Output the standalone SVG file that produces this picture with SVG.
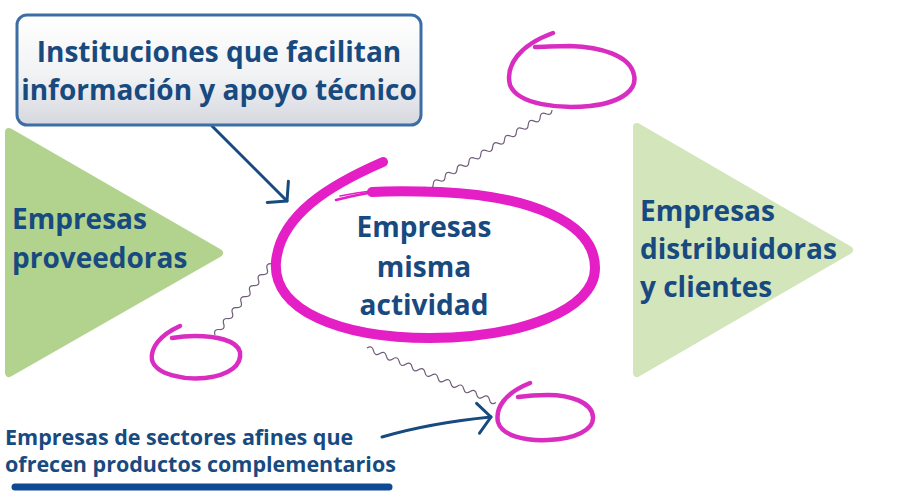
<svg xmlns="http://www.w3.org/2000/svg" width="900" height="500" viewBox="0 0 900 500">
  <defs>
    <linearGradient id="boxg" x1="0" y1="0" x2="0" y2="1">
      <stop offset="0" stop-color="#ffffff"/>
      <stop offset="0.55" stop-color="#f1f2f4"/>
      <stop offset="1" stop-color="#d5d8de"/>
    </linearGradient>
    <marker id="arr" viewBox="-16 -18 20 36" refX="0" refY="0" markerWidth="20" markerHeight="36" markerUnits="userSpaceOnUse" orient="auto">
      <path d="M-13,-15 L0,0 L-13,15" fill="none" stroke="#174a7e" stroke-width="3" stroke-linecap="round" stroke-linejoin="round"/>
    </marker>
  </defs>
  <style>
    .lbl { font-family: "Open Sans", "Noto Sans", "Liberation Sans", sans-serif; font-weight: 700; fill: #184a80; }
    .big { font-size: 28px; }
    .small { font-size: 21.5px; }
    .tri-l { fill: #b2d38d; stroke: #b2d38d; stroke-width: 8; stroke-linejoin: round; }
    .tri-r { fill: #d3e5bb; stroke: #d3e5bb; stroke-width: 8; stroke-linejoin: round; }
    .ring { fill: none; stroke: #d92cc0; stroke-width: 4.5; stroke-linecap: round; stroke-linejoin: round; }
    .wave { fill: none; stroke: #6e5c78; stroke-width: 1.2; }
    .arrow { fill: none; stroke: #174a7e; stroke-width: 3; stroke-linecap: round; marker-end: url(#arr); }
  </style>
  <rect width="900" height="500" fill="#ffffff"/>

  <g id="node-proveedoras">
    <polygon class="tri-l" points="9,132 219,253 9,373"/>
    <text class="lbl big" x="12" y="229">Empresas</text>
    <text class="lbl big" x="12" y="268">proveedoras</text>
  </g>

  <g id="node-distribuidoras">
    <polygon class="tri-r" points="637,127 849,250 637,373"/>
    <text class="lbl big" x="640" y="221">Empresas</text>
    <text class="lbl big" x="640" y="259">distribuidoras</text>
    <text class="lbl big" x="640" y="297">y clientes</text>
  </g>

  <g id="connectors">
    <path class="wave" transform="translate(552,110) rotate(148)" d="M0 0 Q3.5 -5 7 0 T14 0 T21 0 T28 0 T35 0 T42 0 T49 0 T56 0 T63 0 T70 0 T77 0 T84 0 T91 0 T98 0 T105 0 T112 0 T119 0 T126 0 T133 0 T140 0 T147 0 T154 0"/>
    <path class="wave" transform="translate(215,335) rotate(-51.6)" d="M0 0 Q3.5 -5 7 0 T14 0 T21 0 T28 0 T35 0 T42 0 T49 0 T56 0 T63 0 T70 0 T77 0 T84 0 T91 0"/>
    <path class="wave" transform="translate(367,348) rotate(22.9)" d="M0 0 Q3.5 -5 7 0 T14 0 T21 0 T28 0 T35 0 T42 0 T49 0 T56 0 T63 0 T70 0 T77 0 T84 0 T91 0 T98 0 T105 0 T112 0 T119 0 T126 0 T133 0 T140 0"/>
    <path class="arrow" d="M212 126 L287 201"/>
    <path class="arrow" d="M382 437 Q430 423 491 417"/>
  </g>

  <g id="node-central">
    <path d="M383 162 C330 185 280 215 276 262 C272 310 340 338 430 338 C520 338 595 310 595 268 C595 222 530 196 440 192 C410 191 390 191 372 192" fill="none" stroke="#e41fc6" stroke-width="10" stroke-linecap="round" stroke-linejoin="round"/>
    <path d="M375 192 C360 194 348 197 336 200" fill="none" stroke="#e41fc6" stroke-width="2.5" stroke-linecap="round"/>
    <path d="M372 191 C360 192 350 194 340 196" fill="none" stroke="#e41fc6" stroke-width="1.5" stroke-linecap="round"/>
    <text class="lbl big" x="424" y="237" text-anchor="middle">Empresas</text>
    <text class="lbl big" x="424" y="277" text-anchor="middle">misma</text>
    <text class="lbl big" x="424" y="315" text-anchor="middle">actividad</text>
  </g>

  <g id="node-circle-top">
    <path class="ring" d="M553 33 C520 45 505 65 510 85 C518 105 560 109 590 106 C625 102 637 88 634 75 C630 55 600 47 570 46 C555 46 545 47 535 47"/>
  </g>

  <g id="node-circle-left">
    <path class="ring" d="M180 326 C160 335 150 348 152 360 C156 375 185 380 205 378 C230 375 242 365 240 352 C237 340 215 336 195 336 C185 336 178 337 172 338"/>
  </g>

  <g id="node-circle-bottom">
    <path class="ring" d="M530 383 C505 393 495 408 498 422 C502 436 525 441 548 440 C575 439 594 430 593 417 C592 402 570 395 548 395 C535 395 525 396 518 397"/>
  </g>

  <g id="node-instituciones">
    <rect x="17" y="15" width="404" height="110" rx="10" ry="10" fill="url(#boxg)" stroke="#3d6ea3" stroke-width="3"/>
    <text class="lbl big" x="219" y="62" text-anchor="middle">Instituciones que facilitan</text>
    <text class="lbl big" x="219" y="100" text-anchor="middle">información y apoyo técnico</text>
  </g>

  <g id="node-afines">
    <text class="lbl small" x="5" y="445">Empresas de sectores afines que</text>
    <text class="lbl small" x="5" y="472">ofrecen productos complementarios</text>
    <line x1="15" y1="487" x2="389" y2="487" stroke="#0e4a94" stroke-width="7" stroke-linecap="round"/>
  </g>
</svg>
